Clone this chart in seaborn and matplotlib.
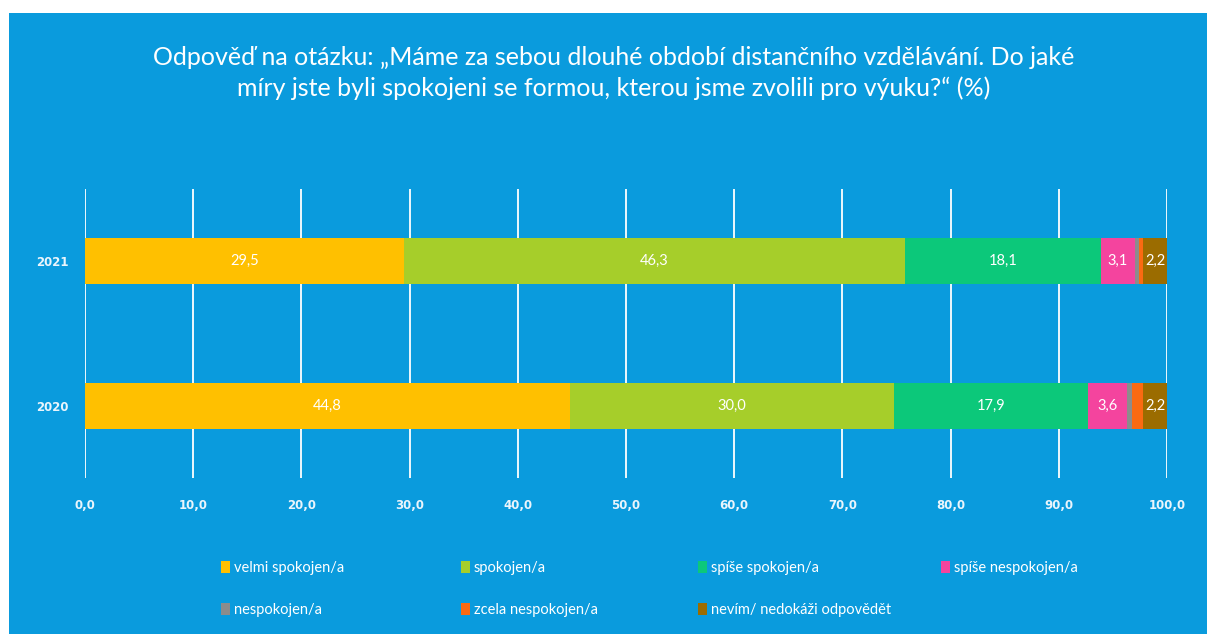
import numpy as np
import pandas as pd
from matplotlib import pyplot as plt
from matplotlib import ticker as ticker
from matplotlib.patches import Patch, Rectangle
import seaborn as sns

sns.set_style('white')
plt.rcParams['font.family'] = ['Lato', 'DejaVu Sans']

years = ['2021', '2020']
categories = ['velmi spokojen/a', 'spokojen/a', 'spíše spokojen/a', 'spíše nespokojen/a',
              'nespokojen/a', 'zcela nespokojen/a', 'nevím/ nedokáži odpovědět']
values_2021 = [29.5, 46.3, 18.1, 3.1, 0.4, 0.4, 2.2]
values_2020 = [44.8, 30.0, 17.9, 3.6, 0.5, 1.0, 2.2]
colors = ['#ffc000', '#a6ce2a', '#0cc87a', '#f4449e', '#8c8c8c', '#fa6a12', '#9b6c00']
xticks = np.arange(0, 101, 10)

bg = '#0a9bdd'
title = ('Odpověď na otázku: „Máme za sebou dlouhé období distančního vzdělávání. Do jaké\n'
         'míry jste byli spokojeni se formou, kterou jsme zvolili pro výuku?“ (%)')

df = pd.DataFrame({'year': years})
for i, c in enumerate(categories):
    df[c] = [values_2021[i], values_2020[i]]
cum = df[categories].cumsum(axis=1)

fig = plt.figure(figsize=(12.07, 6.34), dpi=100)
fig.patch.set_facecolor('white')
fig.patches.append(Rectangle((9/1207, 0), 1 - 9/1207, 1 - 13/634, transform=fig.transFigure,
                             facecolor=bg, edgecolor='none', zorder=-10))
ax = fig.add_axes([85/1207, 1 - 478/634, 1082/1207, 289/634])
ax.set_facecolor('none')

# stacked bars: draw cumulative totals from the longest down
for i in range(len(categories) - 1, -1, -1):
    sns.barplot(x=cum[categories[i]], y=df['year'], color=colors[i], orient='h',
                width=0.317, saturation=1, linewidth=0, ax=ax, zorder=3)

# segment labels
for r, yr in enumerate(years):
    left = 0
    for i, c in enumerate(categories):
        v = df.loc[r, c]
        if v >= 2:
            ax.text(left + v / 2, r, '{:.1f}'.format(v).replace('.', ','), color='white',
                    ha='center', va='center', fontsize=10.5, zorder=5)
        left += v

ax.set_xlim(0, 100)
ax.set_ylim(1.5, -0.5)
ax.set_xticks(xticks)
ax.xaxis.set_major_formatter(ticker.FuncFormatter(lambda x, p: '{:.1f}'.format(x).replace('.', ',')))
ax.grid(axis='x', color='white', linewidth=1.3, zorder=1)
ax.set_axisbelow(True)
for s in ax.spines.values():
    s.set_visible(False)
ax.tick_params(axis='both', length=0, colors='#eaf5fc')
for lb in ax.get_xticklabels() + ax.get_yticklabels():
    lb.set_family('DejaVu Sans')
    lb.set_fontweight('bold')
    lb.set_fontsize(8.5)
ax.tick_params(axis='y', pad=12)
ax.tick_params(axis='x', pad=15)
ax.set_xlabel('')
ax.set_ylabel('')

fig.text(614/1207, 1 - 73/634, title, ha='center', va='center', color='white',
         fontsize=18, linespacing=1.4)

# legend: 4 columns, 2 rows, one legend per column at fixed x positions
col_x = [215, 455, 692, 935]
for k in range(4):
    idx = [j for j in (k, k + 4) if j < len(categories)]
    handles = [Patch(facecolor=colors[j], edgecolor='none') for j in idx]
    leg = fig.legend(handles, [categories[j] for j in idx], frameon=False, loc='upper left',
                     bbox_to_anchor=(col_x[k]/1207, 1 - 555/634), borderaxespad=0,
                     handlelength=0.6, handleheight=0.9, handletextpad=0.3, labelspacing=1.9,
                     fontsize=10.5)
    for t in leg.get_texts():
        t.set_color('white')

plt.savefig('out.png', dpi=100, facecolor=fig.get_facecolor())
